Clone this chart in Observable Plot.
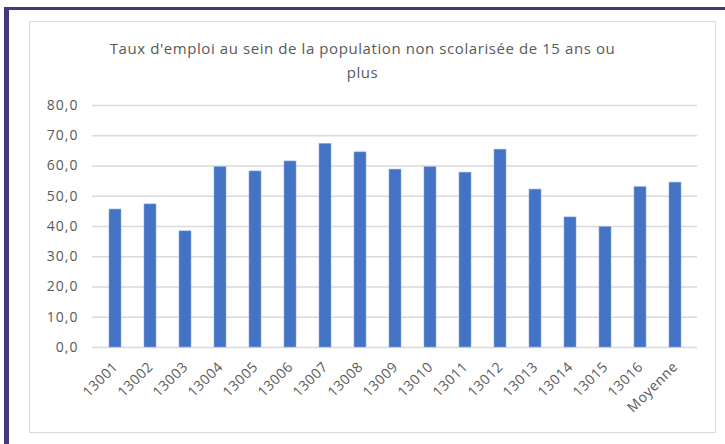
<!DOCTYPE html>
<html>
<head>
<meta charset="utf-8">
<script src="https://cdn.jsdelivr.net/npm/d3@7"></script>
<script src="https://cdn.jsdelivr.net/npm/@observablehq/plot@0.6"></script>
<style>
  html, body { margin: 0; padding: 0; background: #fff; }
  #wrap { position: relative; width: 725px; height: 444px; overflow: hidden; font-family: "Open Sans", sans-serif; }
  #outer { position: absolute; left: 4px; top: 7px; width: 740px; height: 460px; border-top: 3px solid #46387a; border-left: 5px solid #46387a; box-sizing: border-box; }
  #inner { position: absolute; left: 29px; top: 21px; width: 687px; height: 412px; border: 1px solid #d9d9d9; box-sizing: border-box; }
  #title { position: absolute; left: 0; width: 725px; top: 36px; text-align: center; color: #595959; font-size: 15px; letter-spacing: 0.58px; line-height: 24px; font-family: "Open Sans", sans-serif; }
  #chart { position: absolute; left: 0; top: 0; }
  #chart svg g[aria-label="y-axis tick label"] text { letter-spacing: 1px; }
  #chart svg g[aria-label="x-axis tick label"] text { letter-spacing: 0.5px; }
</style>
</head>
<body>
<div id="wrap">
  <div id="outer"></div>
  <div id="inner"></div>
  <div id="chart"></div>
  <div id="title">Taux d'emploi au sein de la population non scolarisée de 15 ans ou<br>plus</div>
</div>
<script>
const categories = ["13001","13002","13003","13004","13005","13006","13007","13008","13009","13010","13011","13012","13013","13014","13015","13016","Moyenne"];
const values = [45.6, 47.3, 38.4, 59.6, 58.2, 61.5, 67.3, 64.5, 58.8, 59.6, 57.8, 65.4, 52.2, 43.0, 39.8, 53.0, 54.5];
const yTicks = [0, 10, 20, 30, 40, 50, 60, 70, 80];

const data = categories.map((c, i) => ({ category: c, value: values[i] }));
const fmt = d => d.toFixed(1).replace(".", ",");

const chart = Plot.plot({
  width: 725,
  height: 444,
  marginLeft: 92,
  marginRight: 28,
  marginTop: 105,
  marginBottom: 97,
  style: { fontFamily: "Open Sans, sans-serif", background: "transparent", color: "#595959" },
  x: { domain: categories, paddingInner: 0.67, paddingOuter: 0.335, label: null },
  y: { domain: [0, 80], ticks: yTicks, label: null },
  marks: [
    Plot.ruleY(yTicks, { stroke: "#d9d9d9", strokeWidth: 1.5 }),
    Plot.barY(data, { x: "category", y: "value", fill: "#4472c4", stroke: "#8eaadb", strokeWidth: 0.6 }),
    Plot.axisY({ ticks: yTicks, tickSize: 0, tickPadding: 14, tickFormat: fmt, fontSize: 14, fill: "#595959", label: null }),
    Plot.axisX({ tickSize: 0, tickPadding: 17, tickRotate: -45, fontSize: 14, fill: "#595959", label: null })
  ]
});
document.getElementById("chart").appendChild(chart);
</script>
</body>
</html>
